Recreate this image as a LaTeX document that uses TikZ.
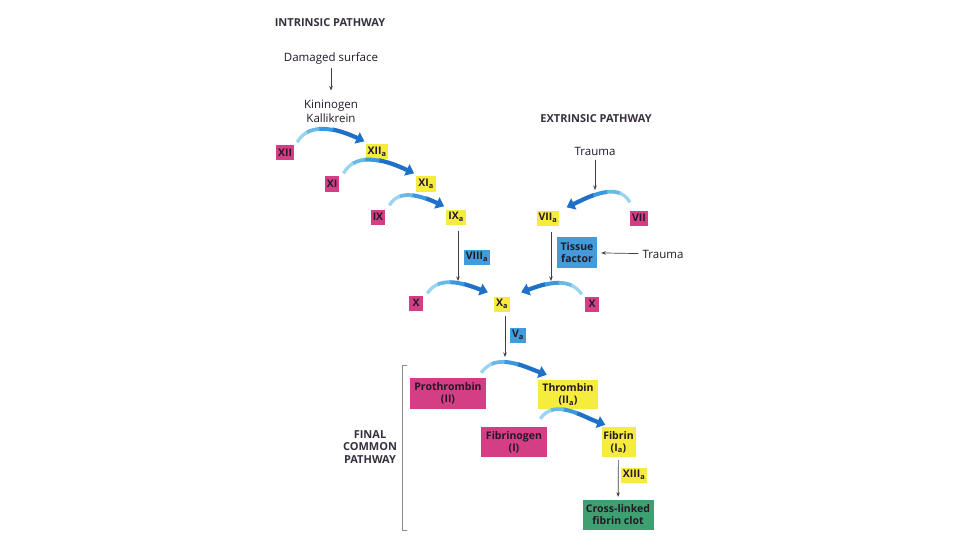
\documentclass[tikz,border=0pt]{standalone}
\usepackage{fontspec}
\setmainfont{Open Sans}
\usetikzlibrary{arrows.meta,calc}
\definecolor{mag}{RGB}{212,62,132}
\definecolor{yel}{RGB}{246,236,62}
\definecolor{bbx}{RGB}{66,156,220}
\definecolor{grn}{RGB}{62,160,112}
\definecolor{bdark}{RGB}{30,112,200}
\definecolor{bmid}{RGB}{60,152,220}
\definecolor{bsoft}{RGB}{105,185,230}
\definecolor{blight}{RGB}{155,212,240}
\definecolor{ink}{RGB}{35,25,40}
\begin{document}
\begin{tikzpicture}[x=1pt,y=1pt,
  box/.style={inner sep=2pt, font=\fontsize{10.5}{12}\selectfont\bfseries, text=ink, minimum height=15pt, minimum width=14pt, align=center},
  mbox/.style={box, fill=mag},
  ybox/.style={box, fill=yel},
  bbox/.style={box, fill=bbx},
  gbox/.style={box, fill=grn},
  lbl/.style={font=\fontsize{11.5}{14}\selectfont, text=ink, align=center, inner sep=0pt},
  ttl/.style={font=\fontsize{11}{13}\selectfont\bfseries, text=ink!90, align=center, inner sep=0pt},
  thinarrow/.style={draw=black!75, line width=0.7pt, -{Stealth[length=4.5pt,width=3.5pt]}},
  arcflow/.style={draw=bdark, line width=4.2pt, dash pattern=on 0pt off 40pt on 400pt,
     -{Triangle[length=8pt,width=12pt]},
     postaction={draw=bmid, line width=4pt, dash pattern=on 0pt off 26pt on 15pt off 400pt, arrows=-},
     postaction={draw=bsoft, line width=3.7pt, dash pattern=on 0pt off 13pt on 14pt off 400pt, arrows=-},
     postaction={draw=blight, line width=3.3pt, dash pattern=on 14pt off 400pt, arrows=-}}
]
\useasboundingbox (0,0) rectangle (960,-540);
\fill[white] (0,0) rectangle (960,-540);

% intrinsic pathway
\node[ttl] (ttlI) at (330,-23) {INTRINSIC PATHWAY};
\node[lbl] (dmg) at (331,-58) {Damaged surface};
\node[lbl] (kk) at (331,-111) {Kininogen\\Kallikrein};
\node[mbox] (XII) at (285,-153) {XII};
\node[ybox] (XIIa) at (377,-152) {XII\textsubscript{a}};
\node[mbox] (XI) at (332,-184) {XI};
\node[ybox] (XIa) at (426,-184) {XI\textsubscript{a}};
\node[mbox] (IX) at (378,-217) {IX};
\node[ybox] (IXa) at (456,-217) {IX\textsubscript{a}};
\node[bbox] (VIIIa) at (477,-257) {VIII\textsubscript{a}};

% extrinsic pathway
\node[ttl] (ttlE) at (596,-119) {EXTRINSIC PATHWAY};
\node[lbl] (tr1) at (595,-151) {Trauma};
\node[ybox] (VIIa) at (548,-218) {VII\textsubscript{a}};
\node[mbox] (VII) at (639,-218) {VII};
\node[bbox, minimum width=40pt, minimum height=31pt, inner sep=1pt, font=\fontsize{10.5}{11.5}\selectfont\bfseries] (tf) at (577,-252.5) {Tissue\\factor};
\node[lbl] (tr2) at (663,-254) {Trauma};

% X level
\node[mbox] (Xl) at (416,-303) {X};
\node[ybox] (Xa) at (502,-304) {X\textsubscript{a}};
\node[mbox] (Xr) at (592,-304) {X};
\node[bbox] (Va) at (518,-335) {V\textsubscript{a}};

% final common pathway
\node[ttl, font=\fontsize{11}{12.5}\selectfont\bfseries] (ttlF) at (370,-447) {FINAL\\COMMON\\PATHWAY};
\node[mbox, minimum width=76pt, minimum height=31pt, inner sep=1pt] (pro) at (448,-393.5) {Prothrombin\\(II)};
\node[ybox, minimum width=60pt, minimum height=29pt, inner sep=1pt] (thr) at (568,-394.5) {Thrombin\\(II\textsubscript{a})};
\node[mbox, minimum width=66pt, minimum height=30pt, inner sep=1pt] (fbg) at (514,-442) {Fibrinogen\\(I)};
\node[ybox, minimum width=34pt, minimum height=30pt, inner sep=1pt] (fbn) at (618.5,-442) {Fibrin\\(I\textsubscript{a})};
\node[ybox] (XIIIa) at (634,-475) {XIII\textsubscript{a}};
\node[gbox, minimum width=71pt, minimum height=30pt, inner sep=1pt] (clot) at (618,-515) {Cross-linked\\fibrin clot};

% bracket
\draw[black!45, line width=0.9pt] (407,-365) -- (402,-365) -- (402,-530) -- (407,-530);

% free ends of thin arrows
\coordinate (cTr) at (595,-190);
\coordinate (cIX) at (458,-281);
\coordinate (cVII) at (551,-281);
\coordinate (cXa) at (505,-357);

% thin arrows
\draw[thinarrow, shorten <=4pt, shorten >=9pt] (dmg) -- (kk);
\draw[thinarrow, shorten <=5pt] (tr1) -- (cTr);
\draw[thinarrow, shorten <=6pt] (IXa.south -| cIX) -- (cIX);
\draw[thinarrow, shorten <=6pt] (VIIa.south -| cVII) -- (cVII);
\draw[thinarrow, shorten <=4pt, shorten >=4pt] (tr2) -- (tf);
\draw[thinarrow, shorten <=4pt] (Xa.south -| cXa) -- (cXa);
\draw[thinarrow, shorten <=3pt, shorten >=3pt] (fbn) -- (clot);

% blue activation arcs
\draw[arcflow] ($(XII.north east)+(3,3)$) to[out=60,in=155] ($(XIIa.north west)+(-1,3)$);
\draw[arcflow] ($(XI.north east)+(4,3)$) to[out=60,in=155] ($(XIa.north west)+(-2,3)$);
\draw[arcflow] ($(IX.north east)+(4,4)$) to[out=60,in=155] ($(IXa.north west)+(-2,3)$);
\draw[arcflow] ($(VII.north west)+(0,8)$) to[out=120,in=25] ($(VIIa.north east)+(7,3)$);
\draw[arcflow] ($(Xl.north east)+(4,2)$) to[out=55,in=160] ($(Xa.north west)+(-6,4)$);
\draw[arcflow] ($(Xr.north west)+(-3,2)$) to[out=125,in=20] ($(Xa.north east)+(11,4)$);
\draw[arcflow] ($(pro.north east)+(-5,5)$) to[out=55,in=160] ($(thr.north west)+(9,5)$);
\draw[arcflow] ($(fbg.north east)+(-7,8)$) to[out=55,in=160] ($(fbn.north west)+(4,2)$);
\end{tikzpicture}
\end{document}
